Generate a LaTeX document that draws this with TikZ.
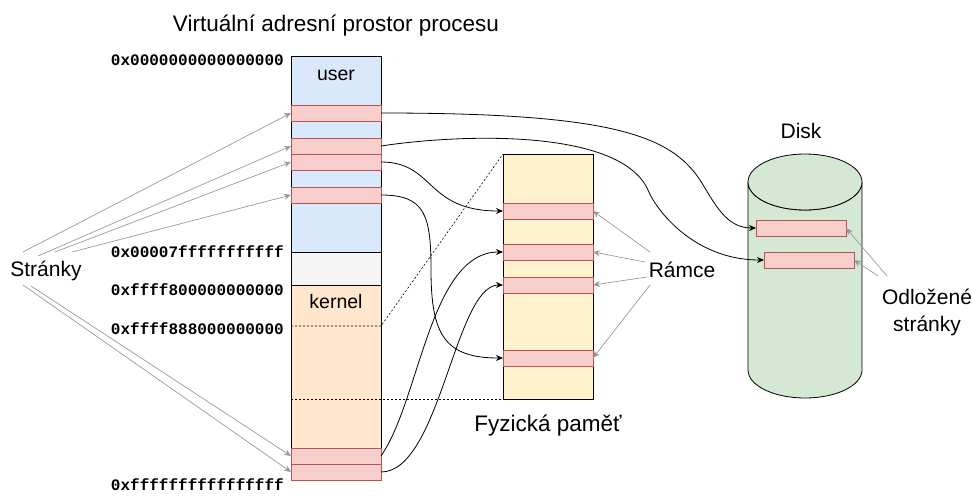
\documentclass[tikz,border=0pt]{standalone}
\usepackage{fontspec}
\setmainfont{Liberation Sans}
\setmonofont{Liberation Mono}
\usetikzlibrary{calc}
\usetikzlibrary{positioning}
\usetikzlibrary{arrows.meta}
\definecolor{userfill}{HTML}{DAE8FC}
\definecolor{gapfill}{HTML}{F5F5F5}
\definecolor{kernfill}{HTML}{FFE6CC}
\definecolor{physfill}{HTML}{FFF2CC}
\definecolor{diskfill}{HTML}{D5E8D4}
\definecolor{pagefill}{HTML}{F8CECC}
\definecolor{pageline}{HTML}{B85450}
\definecolor{hintline}{HTML}{999999}
\tikzset{
	>={Stealth[length=7pt,width=6pt,inset=2.2pt]},
	area/.style={
		rectangle,
		draw=black, line width=0.8pt,
		minimum width=90pt,
		inner sep=0pt, outer sep=0pt,
		anchor=north west},
	pagebox/.style={
		area,
		draw=pageline, fill=pagefill,
		minimum height=16pt},
	popis/.style={font=\fontsize{21}{26.5}\selectfont, inner sep=0pt, anchor=base, align=center},
	addr/.style={font=\fontsize{16}{18}\selectfont\ttfamily\bfseries, inner sep=0pt, anchor=base east},
	map/.style={draw, ->, line width=0.8pt},
	hint/.style={draw=hintline, ->, line width=0.7pt},
	split/.style={draw, dash pattern=on 2pt off 2pt, line width=0.6pt},
}
\begin{document}
\begin{tikzpicture}[x=1pt,y=-1pt]
	\useasboundingbox (0,0) rectangle (973,495);
	% virtualni adresni prostor
	\node[area, fill=userfill, minimum height=196pt] (user) at (291,56) {};
	\node[area, fill=gapfill, minimum height=33pt] (gap) at (291,252) {};
	\node[area, fill=kernfill, minimum height=195pt] (kernel) at (291,285) {};
	\node[popis, font=\fontsize{22.5}{27}\selectfont] (title) at (336,31.5) {Virtuální adresní prostor procesu};
	\node[popis, font=\fontsize{19.5}{24}\selectfont] (userlbl) at (336,80.5) {user};
	\node[popis, font=\fontsize{19.5}{24}\selectfont] (kernlbl) at (336,308) {kernel};

	\node[addr] (a0) at (284,65) {0x0000000000000000};
	\node[addr] (a1) at (284,257.3) {0x00007fffffffffff};
	\node[addr] (a2) at (284,295) {0xffff800000000000};
	\node[addr] (a3) at (284,334) {0xffff888000000000};
	\node[addr] (a4) at (284,490.5) {0xffffffffffffffff};

	% fyzicka pamet
	\node[area, fill=physfill, minimum height=245pt] (phys) at (503,154) {};
	\node[popis, font=\fontsize{22.5}{27}\selectfont] (physlbl) at (548,431) {Fyzická paměť};

	\coordinate (cut1) at (291,326);
	\coordinate (cut2) at (291,399);
	\draw[split] (cut1) -- (cut1 -| kernel.east) -- (phys.north west);
	\draw[split] (cut2) -- (phys.south west);

	% stranky
	\node[pagebox] (p1) at (291,105) {};
	\node[pagebox] (p2) at (291,138) {};
	\node[pagebox, below=0pt of p2.south west, anchor=north west] (p3) {};
	\node[pagebox] (p4) at (291,187) {};
	\node[pagebox] (k1) at (291,448) {};
	\node[pagebox, below=0pt of k1.south west, anchor=north west] (k2) {};

	% ramce
	\node[pagebox] (f1) at (503,203) {};
	\node[pagebox] (f2) at (503,244) {};
	\node[pagebox] (f3) at (503,277) {};
	\node[pagebox] (f4) at (503,350) {};

	% disk
	\coordinate (disk) at (805,182);
	\path[draw, fill=diskfill, line width=0.8pt] (748,182) -- (748,370)
		arc[start angle=180, end angle=0, x radius=57, y radius=28] -- (862,182)
		arc[start angle=0, end angle=180, x radius=57, y radius=28] -- cycle;
	\draw[fill=diskfill, line width=0.8pt] (disk) ellipse[x radius=57, y radius=28];
	\node[popis] (disklbl) at (801,138) {Disk};
	\node[pagebox] (d1) at (756,220) {};
	\node[pagebox] (d2) at (764,252) {};

	% popisky
	\node[popis] (stranky) at (46,276.7) {Stránky};
	\node[popis] (ramce) at (682,277) {Rámce};
	\node[popis] (odlozene) at (927,331) {Odložené\\stránky};

	\draw[hint] ($(stranky.base)+(-23,-24.7)$) -- (p1.west);
	\draw[hint] ($(stranky.base)+(-8,-20.7)$) -- (p2.west);
	\draw[hint] ($(stranky.base)+(9,-24.7)$) -- (p3.west);
	\draw[hint] ($(stranky.base)+(26,-24.7)$) -- (p4.west);
	\draw[hint] ($(stranky.base)+(-23,8.3)$) -- (k2.west);
	\draw[hint] ($(stranky.base)+(-15,9.3)$) -- (k1.west);

	\draw[hint] ($(ramce.base)+(-32,-25)$) -- (f1.east);
	\draw[hint] ($(ramce.base)+(-37,-15)$) -- (f2.east);
	\draw[hint] ($(ramce.base)+(-35,0)$) -- (f3.east);
	\draw[hint] ($(ramce.base)+(-32,8)$) -- (f4.east);

	\draw[hint] ($(odlozene.base)+(-40,-55)$) -- (d1.east);
	\draw[hint] ($(odlozene.base)+(-49,-55)$) -- (d2.east);

	% mapovani
	\coordinate (bendA) at (700,180);
	\coordinate (bendB) at (648,190);
	\coordinate (bendD) at (431,270);
	\draw[map] (p1.east) .. controls +(230,0) and +(-30,-45) .. (bendA)
		.. controls +(15,24) and +(-30,0) .. (d1.west);
	\draw[map] (p2.east) .. controls +(79,-12) and +(-28,-62) .. (bendB)
		.. controls +(8,20) and +(-70,0) .. (d2.west);
	\draw[map] (p3.east) .. controls +(54,0) and +(-78,0) .. (f1.west);
	\draw[map] (p4.east) .. controls +(44,0) and +(0,-55) .. (bendD)
		.. controls +(0,65) and +(-58,0) .. (f4.west);
	\draw[map] (k1.east) .. controls +(39,-56) and +(-73,0) .. (f2.west);
	\draw[map] (k2.east) .. controls +(59,0) and +(-48,0) .. (f3.west);
\end{tikzpicture}
\end{document}
